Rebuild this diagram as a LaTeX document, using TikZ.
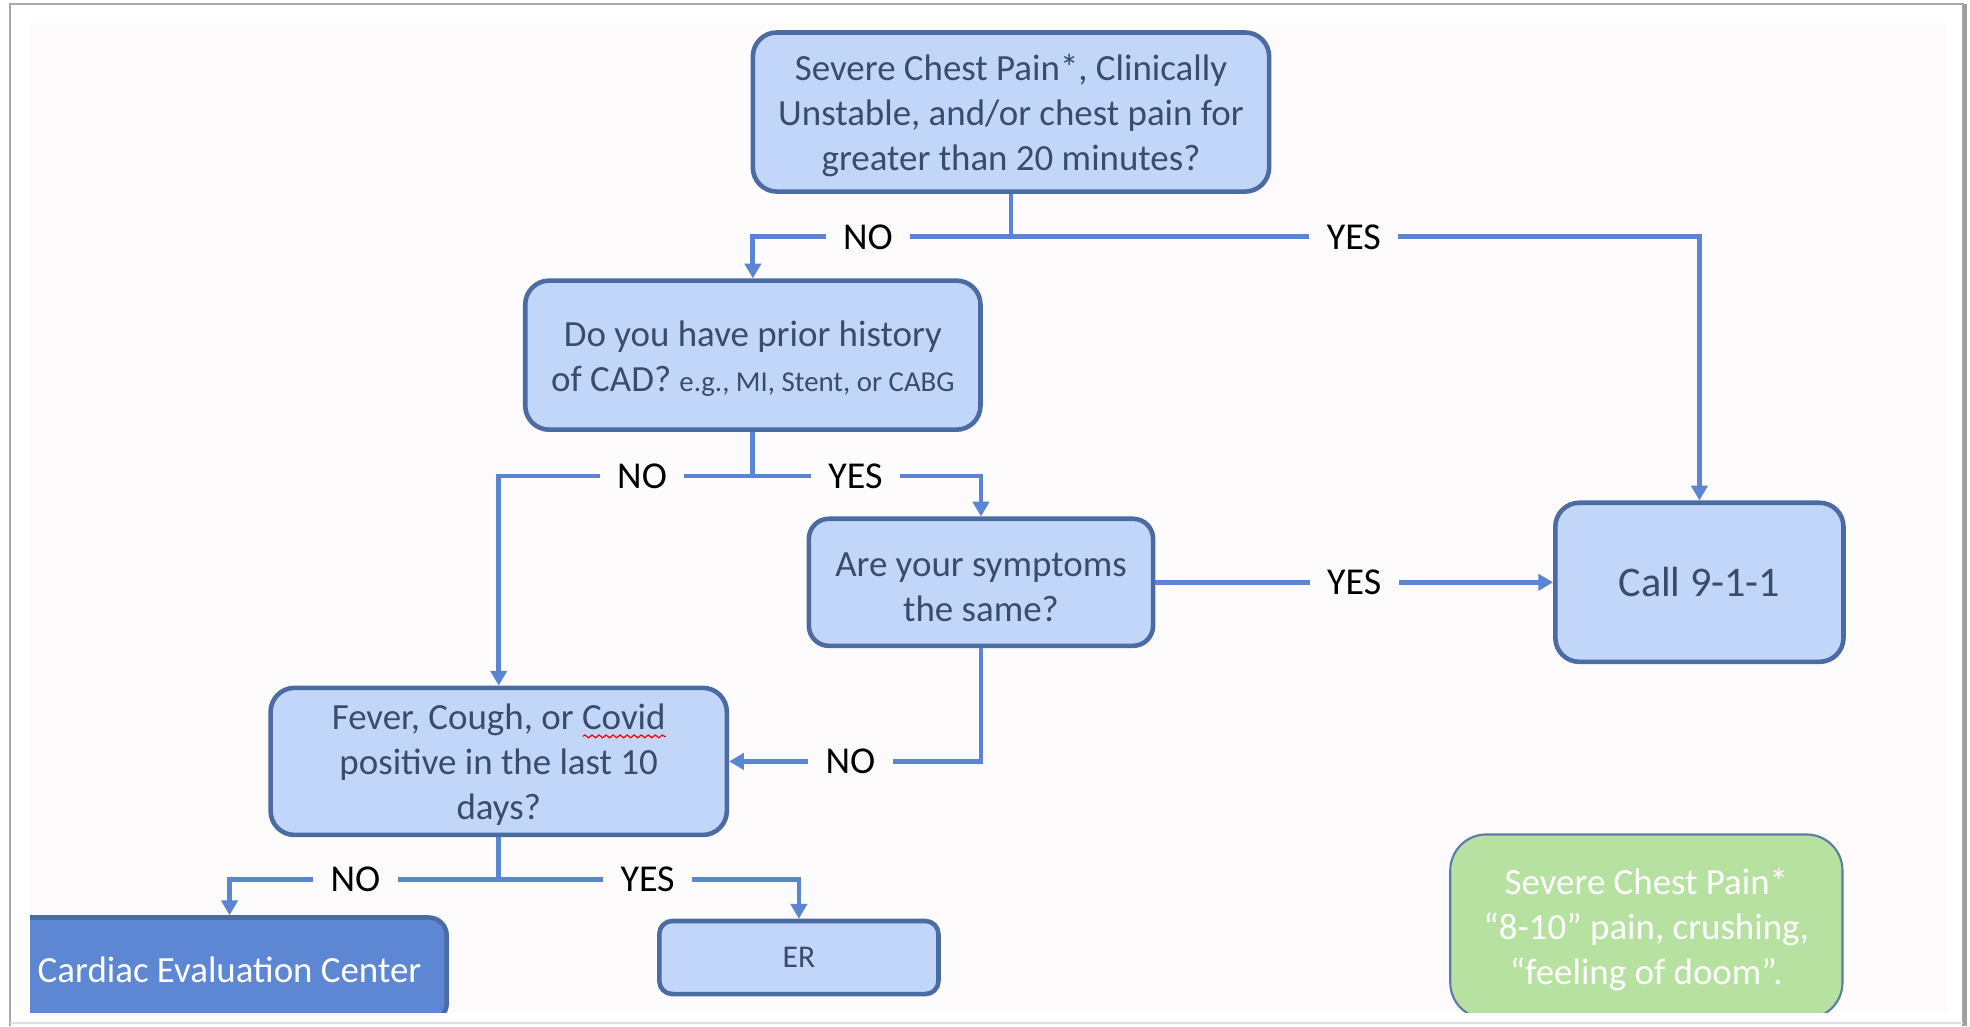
\documentclass[tikz,border=0pt]{standalone}
\usepackage{fontspec}
\setmainfont{Carlito}
\usetikzlibrary{arrows.meta,positioning,decorations.pathmorphing}
\definecolor{boxfill}{HTML}{C2D6FA}
\definecolor{boxline}{HTML}{4A6CA3}
\definecolor{linkblue}{HTML}{5B84D2}
\definecolor{boxtext}{HTML}{3A4B6B}
\definecolor{cecfill}{HTML}{5D86D3}
\definecolor{notefill}{HTML}{B7E1A1}
\definecolor{noteline}{HTML}{5B7BA8}
\definecolor{pagebg}{HTML}{FDFBFC}
\definecolor{framegray}{HTML}{A8A8A8}
\newcommand{\toppad}{\rule{0pt}{9.3pt}}

\begin{document}
\begin{tikzpicture}[
  x=0.01cm, y=-0.01cm, on grid,
  every node/.style={font=\fontsize{10.5}{12.8}\selectfont},
  question/.style={draw=boxline, line width=1.3pt, fill=boxfill, text=boxtext,
                   rounded corners=0.24cm, align=center, inner sep=0pt},
  answer/.style={fill=pagebg, inner xsep=5pt, inner ysep=1pt, text=black,
                 font=\fontsize{10.8}{12}\selectfont},
  link/.style={draw=linkblue, line width=1.35pt},
  arrow/.style={link, -{Triangle[width=4.6pt,length=4.2pt]}},
  spell/.style={red, line width=0.35pt, decorate,
                decoration={snake, amplitude=0.4pt, segment length=2pt}},
]
  \useasboundingbox (0,0) rectangle (1970,1026);
  \fill[white] (0,0) rectangle (1970,1026);
  \draw[framegray, line width=0.6pt] (10,1026) -- (10,4) -- (1963,4) -- (1963,1026);
  \fill[gray!75] (1963,4) rectangle (1967,1026);
  \draw[gray!25, line width=0.6pt] (10,1023) -- (1963,1023);

  \begin{scope}
  \clip (30,23) rectangle (1947,1012);
  \fill[pagebg] (30,23) rectangle (1947,1012);

  \node[question, minimum width=5.16cm, minimum height=1.59cm] (severe) at (1011,112)
    {\toppad Severe Chest Pain*, Clinically\\Unstable, and/or chest pain for\\greater than 20 minutes?};
  \node[question, below left=2.43cm and 2.58cm of severe,
        minimum width=4.55cm, minimum height=1.49cm] (history)
    {\toppad Do you have prior history\\of CAD? {\fontsize{8.2}{10}\selectfont e.g., MI, Stent, or CABG}};
  \node[question, below right=2.27cm and 2.28cm of history,
        minimum width=3.44cm, minimum height=1.27cm, rounded corners=0.2cm] (same)
    {\toppad Are your symptoms\\the same?};
  \node[question, right=7.18cm of same, minimum width=2.88cm, minimum height=1.59cm,
        font=\fontsize{12}{14}\selectfont] (call) {Call 9-1-1};
  \node[question, below left=4.06cm and 2.54cm of history,
        minimum width=4.56cm, minimum height=1.47cm] (fever)
    {\toppad Fever, Cough, or Covid\\positive in the last 10\\days?};
  \node[question, below left=2.08cm and 2.69cm of fever, minimum width=4.34cm,
        minimum height=1.04cm, fill=cecfill, text=white, rounded corners=0.18cm] (cec)
    {Cardiac Evaluation Center};
  \node[question, below right=1.96cm and 3.00cm of fever, minimum width=2.79cm,
        minimum height=0.73cm, rounded corners=0.13cm,
        font=\fontsize{9}{11}\selectfont] (er) {ER};
  \node[question, below left=3.44cm and 0.53cm of call, minimum width=3.92cm,
        minimum height=1.84cm, fill=notefill, draw=noteline, line width=0.6pt,
        text=white, rounded corners=0.36cm] (note)
    {\toppad Severe Chest Pain*\\“8-10” pain, crushing,\\“feeling of doom”.};

  \draw[spell] ([xshift=0.84cm, yshift=0.25cm]fever.center) -- ++(0.83cm,0);

  \coordinate[below=0.43cm of severe.south] (split1);
  \draw[link] (severe.south) -- (split1);
  \draw[arrow] (split1) -| node[answer, pos=0.277] {NO} (history.north);
  \draw[arrow] (split1) -| node[answer, pos=0.249] {YES} (call.north);

  \coordinate[below=0.44cm of history.south] (split2);
  \draw[link] (history.south) -- (split2);
  \draw[arrow] (split2) -| node[answer, pos=0.218] {NO} (fever.north);
  \draw[arrow] (split2) -| node[answer, pos=0.225] {YES} (same.north);

  \draw[arrow] (same.east) -- node[answer] {YES} (call.west);
  \draw[arrow] (same.south) |- node[answer, pos=0.759] {NO} (fever.east);

  \coordinate[below=0.42cm of fever.south] (split3);
  \draw[link] (fever.south) -- (split3);
  \draw[arrow] (split3) -| node[answer, pos=0.266] {NO} (cec.north);
  \draw[arrow] (split3) -| node[answer, pos=0.248] {YES} (er.north);
  \end{scope}
\end{tikzpicture}
\end{document}
